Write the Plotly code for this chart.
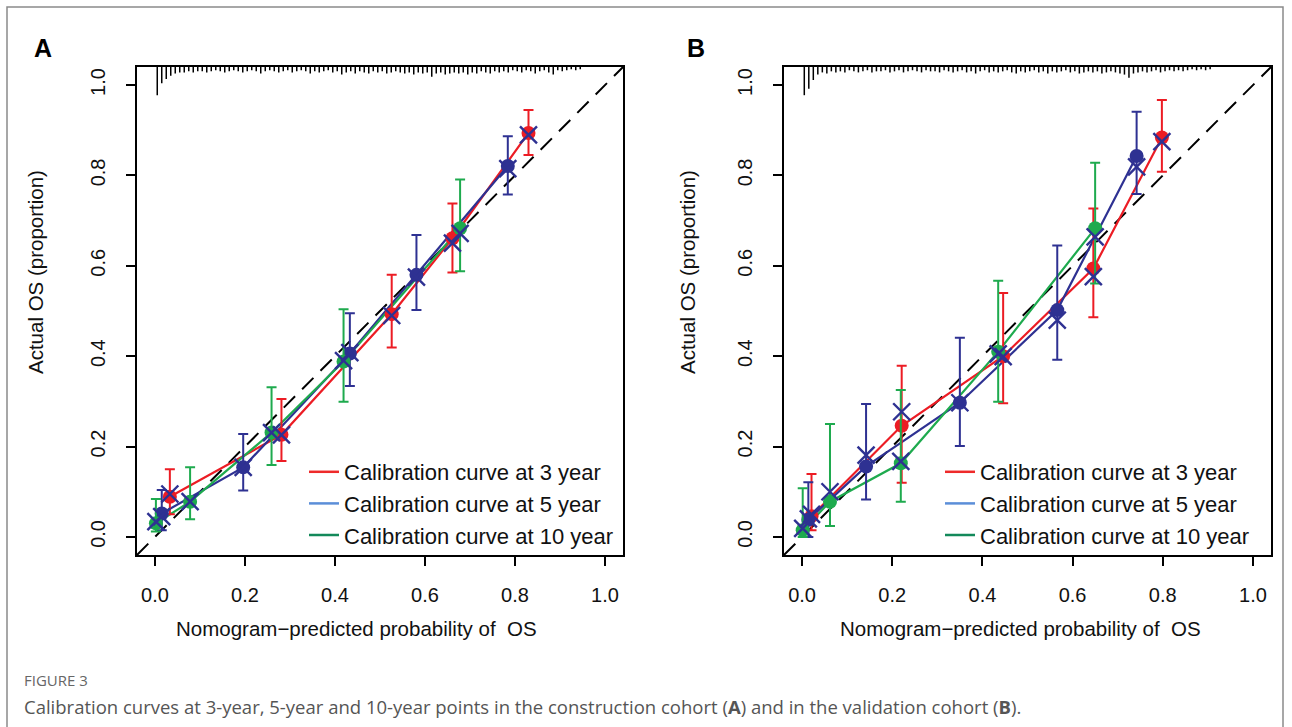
import plotly.graph_objects as go

W, H = 1292, 727

# ---------------- data: panel A (construction cohort) ----------------
a3_x = [0.033, 0.281, 0.526, 0.661, 0.830]
a3_y = [0.089, 0.226, 0.493, 0.661, 0.894]
a3_lo = [0.050, 0.168, 0.419, 0.585, 0.845]
a3_hi = [0.150, 0.305, 0.580, 0.738, 0.945]
a3_bc = [0.095, 0.226, 0.490, 0.650, 0.890]

a5_x = [0.015, 0.196, 0.433, 0.581, 0.784]
a5_y = [0.052, 0.154, 0.406, 0.580, 0.821]
a5_lo = [0.015, 0.103, 0.334, 0.502, 0.758]
a5_hi = [0.104, 0.228, 0.495, 0.668, 0.887]
a5_bc = [0.045, 0.154, 0.408, 0.575, 0.815]

a10_x = [0.002, 0.078, 0.259, 0.419, 0.678]
a10_y = [0.030, 0.078, 0.231, 0.388, 0.683]
a10_lo = [0.012, 0.039, 0.159, 0.299, 0.588]
a10_hi = [0.084, 0.154, 0.331, 0.504, 0.791]
a10_bc = [0.034, 0.078, 0.231, 0.390, 0.672]

# ---------------- data: panel B (validation cohort) ----------------
b3_x = [0.021, 0.221, 0.446, 0.646, 0.798]
b3_y = [0.046, 0.246, 0.400, 0.594, 0.884]
b3_lo = [0.015, 0.120, 0.296, 0.486, 0.808]
b3_hi = [0.139, 0.379, 0.540, 0.727, 0.967]
b3_bc = [0.050, 0.277, 0.399, 0.576, 0.875]

b5_x = [0.014, 0.142, 0.350, 0.566, 0.742]
b5_y = [0.038, 0.156, 0.297, 0.502, 0.843]
b5_lo = [0.000, 0.083, 0.201, 0.392, 0.759]
b5_hi = [0.121, 0.294, 0.441, 0.645, 0.941]
b5_bc = [0.040, 0.181, 0.297, 0.480, 0.819]

b10_x = [0.0015, 0.062, 0.219, 0.435, 0.650]
b10_y = [0.015, 0.078, 0.163, 0.410, 0.683]
b10_lo = [0.000, 0.024, 0.078, 0.299, 0.561]
b10_hi = [0.108, 0.250, 0.325, 0.567, 0.828]
b10_bc = [0.019, 0.100, 0.167, 0.405, 0.664]

# rug (distribution of predicted probabilities), bins of width 0.01
rug_start = 0.005
rug_step = 0.01
rugA_counts = [26, 15, 11, 8, 6, 5, 5, 4, 5, 4, 4, 5, 4, 3, 4, 5, 4, 3, 4, 5,
               4, 3, 4, 6, 4, 3, 4, 5, 4, 3, 5, 4, 3, 4, 6, 4, 5, 4, 3, 5,
               4, 7, 5, 4, 6, 4, 5, 6, 4, 5, 4, 6, 5, 4, 5, 6, 5, 7, 5, 6,
               5, 9, 6, 5, 7, 6, 5, 6, 5, 7, 5, 6, 4, 5, 6, 4, 5, 4, 5, 3,
               4, 5, 3, 4, 6, 4, 3, 5, 7, 3, 4, 3, 2, 3, 2]
rugB_counts = [26, 20, 12, 7, 5, 6, 4, 5, 4, 5, 3, 4, 5, 4, 3, 5, 4, 4, 3, 5,
               4, 3, 5, 4, 3, 4, 5, 3, 4, 4, 5, 3, 4, 5, 4, 3, 5, 4, 6, 4,
               3, 5, 4, 5, 4, 3, 5, 6, 4, 5, 4, 3, 5, 4, 6, 4, 5, 4, 3, 5,
               4, 6, 5, 4, 5, 4, 6, 5, 4, 5, 6, 7, 10, 6, 5, 4, 5, 4, 3, 5,
               4, 3, 4, 3, 4, 3, 2, 3, 2, 3, 2]
rug_unit = 0.0024

xticks = [0.0, 0.2, 0.4, 0.6, 0.8, 1.0]
xtick_text = ["0.0", "0.2", "0.4", "0.6", "0.8", "1.0"]
legend_labels = ["Calibration curve at 3 year", "Calibration curve at 5 year",
                 "Calibration curve at 10 year"]

# ---------------- styles ----------------
RED = "#EC1C24"
NAVY = "#2E3192"
GREEN = "#1EAA4E"
LEG_COLORS = ["#EE2A2A", "#5B8ED8", "#13895A"]
FONT = "Liberation Sans, Arial, sans-serif"

fig = go.Figure()


def add_panel(xa, ya, curves, rug_counts, legend_name):
    xr, yr = "x" + xa, "y" + ya
    # diagonal reference
    fig.add_trace(go.Scatter(x=[-0.04, 1.04], y=[-0.04, 1.04], mode="lines",
                             line=dict(color="black", width=2, dash="16px,10px"),
                             xaxis=xr, yaxis=yr, showlegend=False, hoverinfo="skip"))
    # rug
    rx, ry = [], []
    for i, c in enumerate(rug_counts):
        xv = rug_start + i * rug_step
        rx += [xv, xv, None]
        ry += [1.04, 1.04 - c * rug_unit, None]
    fig.add_trace(go.Scatter(x=rx, y=ry, mode="lines", line=dict(color="black", width=1.5),
                             xaxis=xr, yaxis=yr, showlegend=False, hoverinfo="skip"))
    # curves
    for (cx, cy, lo, hi, bc), col in zip(curves, [RED, NAVY, GREEN]):
        fig.add_trace(go.Scatter(x=cx, y=cy, mode="lines", line=dict(color=col, width=2.2),
                                 xaxis=xr, yaxis=yr, showlegend=False, hoverinfo="skip"))
    for (cx, cy, lo, hi, bc), col in zip(curves, [RED, NAVY, GREEN]):
        fig.add_trace(go.Scatter(
            x=cx, y=cy, mode="markers",
            marker=dict(color=col, size=14, symbol="circle"),
            error_y=dict(type="data", symmetric=False,
                         array=[h - v for h, v in zip(hi, cy)],
                         arrayminus=[v - l for v, l in zip(cy, lo)],
                         color=col, thickness=2, width=5),
            xaxis=xr, yaxis=yr, showlegend=False))
    for (cx, cy, lo, hi, bc), col in zip(curves, [RED, NAVY, GREEN]):
        fig.add_trace(go.Scatter(
            x=cx, y=bc, mode="markers",
            marker=dict(symbol="x-thin-open", size=17, color=NAVY,
                        line=dict(color=NAVY, width=2.4)),
            xaxis=xr, yaxis=yr, showlegend=False))
    # legend entries
    for lab, col in zip(legend_labels, LEG_COLORS):
        fig.add_trace(go.Scatter(x=[None], y=[None], mode="lines", name=lab,
                                 line=dict(color=col, width=2.5),
                                 xaxis=xr, yaxis=yr, legend=legend_name))


add_panel("", "", [(a3_x, a3_y, a3_lo, a3_hi, a3_bc),
                   (a5_x, a5_y, a5_lo, a5_hi, a5_bc),
                   (a10_x, a10_y, a10_lo, a10_hi, a10_bc)], rugA_counts, "legend")
add_panel("2", "2", [(b3_x, b3_y, b3_lo, b3_hi, b3_bc),
                     (b5_x, b5_y, b5_lo, b5_hi, b5_bc),
                     (b10_x, b10_y, b10_lo, b10_hi, b10_bc)], rugB_counts, "legend2")

ydom = [(H - 555) / H, (H - 67) / H]
axis_common = dict(range=[-0.04, 1.04], showgrid=False, zeroline=False, showline=True,
                   linecolor="black", linewidth=2, mirror=True, ticks="outside",
                   ticklen=9, tickwidth=1.6, tickcolor="black",
                   tickvals=xticks, ticktext=xtick_text,
                   tickfont=dict(family=FONT, size=20, color="#111"))

fig.update_layout(
    width=W, height=H, margin=dict(l=0, r=0, t=0, b=0),
    paper_bgcolor="white", plot_bgcolor="white", hovermode=False,
    xaxis=dict(domain=[137 / W, 623 / W], anchor="y", ticklabelstandoff=12, **axis_common),
    yaxis=dict(domain=ydom, anchor="x", tickangle=-90, ticklabelstandoff=13, **axis_common),
    xaxis2=dict(domain=[784 / W, 1271 / W], anchor="y2", ticklabelstandoff=12, **axis_common),
    yaxis2=dict(domain=ydom, anchor="x2", tickangle=-90, ticklabelstandoff=13, **axis_common),
    legend=dict(x=304 / W, y=(H - 451) / H, xanchor="left", yanchor="top",
                bgcolor="rgba(0,0,0,0)", font=dict(family=FONT, size=22, color="#111")),
    legend2=dict(x=940 / W, y=(H - 451) / H, xanchor="left", yanchor="top",
                 bgcolor="rgba(0,0,0,0)", font=dict(family=FONT, size=22, color="#111")),
    shapes=[dict(type="rect", xref="paper", yref="paper", x0=7 / W, x1=1283 / W,
                 y0=-0.05, y1=(H - 7) / H, line=dict(color="#8a8a8a", width=1.5))],
)

ann = []
for txt, x in [("A", 32), ("B", 685)]:
    ann.append(dict(text="<b>%s</b>" % txt, x=x / W, y=(H - 48) / H, xref="paper", yref="paper",
                    xanchor="left", yanchor="middle", showarrow=False,
                    font=dict(family=FONT, size=25, color="black")))
for x in [35, 687]:
    ann.append(dict(text="Actual OS (proportion)", x=x / W, y=(H - 272) / H, xref="paper",
                    yref="paper", textangle=-90, showarrow=False, xanchor="center",
                    yanchor="middle", font=dict(family=FONT, size=20.5, color="#111")))
for x in [356, 1020]:
    ann.append(dict(text="Nomogram\u2212predicted probability of\u00a0 OS", x=x / W,
                    y=(H - 628) / H, xref="paper", yref="paper", showarrow=False,
                    xanchor="center", yanchor="middle",
                    font=dict(family=FONT, size=20.5, color="#111")))
ann.append(dict(text="FIGURE 3", x=22 / W, y=(H - 680) / H, xref="paper", yref="paper",
                showarrow=False, xanchor="left", yanchor="middle",
                font=dict(family="Open Sans", size=15, color="#666")))
ann.append(dict(text="Calibration curves at 3-year, 5-year and 10-year points in the construction "
                     "cohort (<b>A</b>) and in the validation cohort (<b>B</b>).",
                x=22 / W, y=(H - 706) / H, xref="paper", yref="paper", showarrow=False,
                xanchor="left", yanchor="middle",
                font=dict(family="Open Sans", size=18.5, color="#555")))
fig.update_layout(annotations=ann)

fig.write_html("out.html", config={"displayModeBar": False},
               post_script="document.body.style.margin='0';document.body.style.overflow='hidden';")
